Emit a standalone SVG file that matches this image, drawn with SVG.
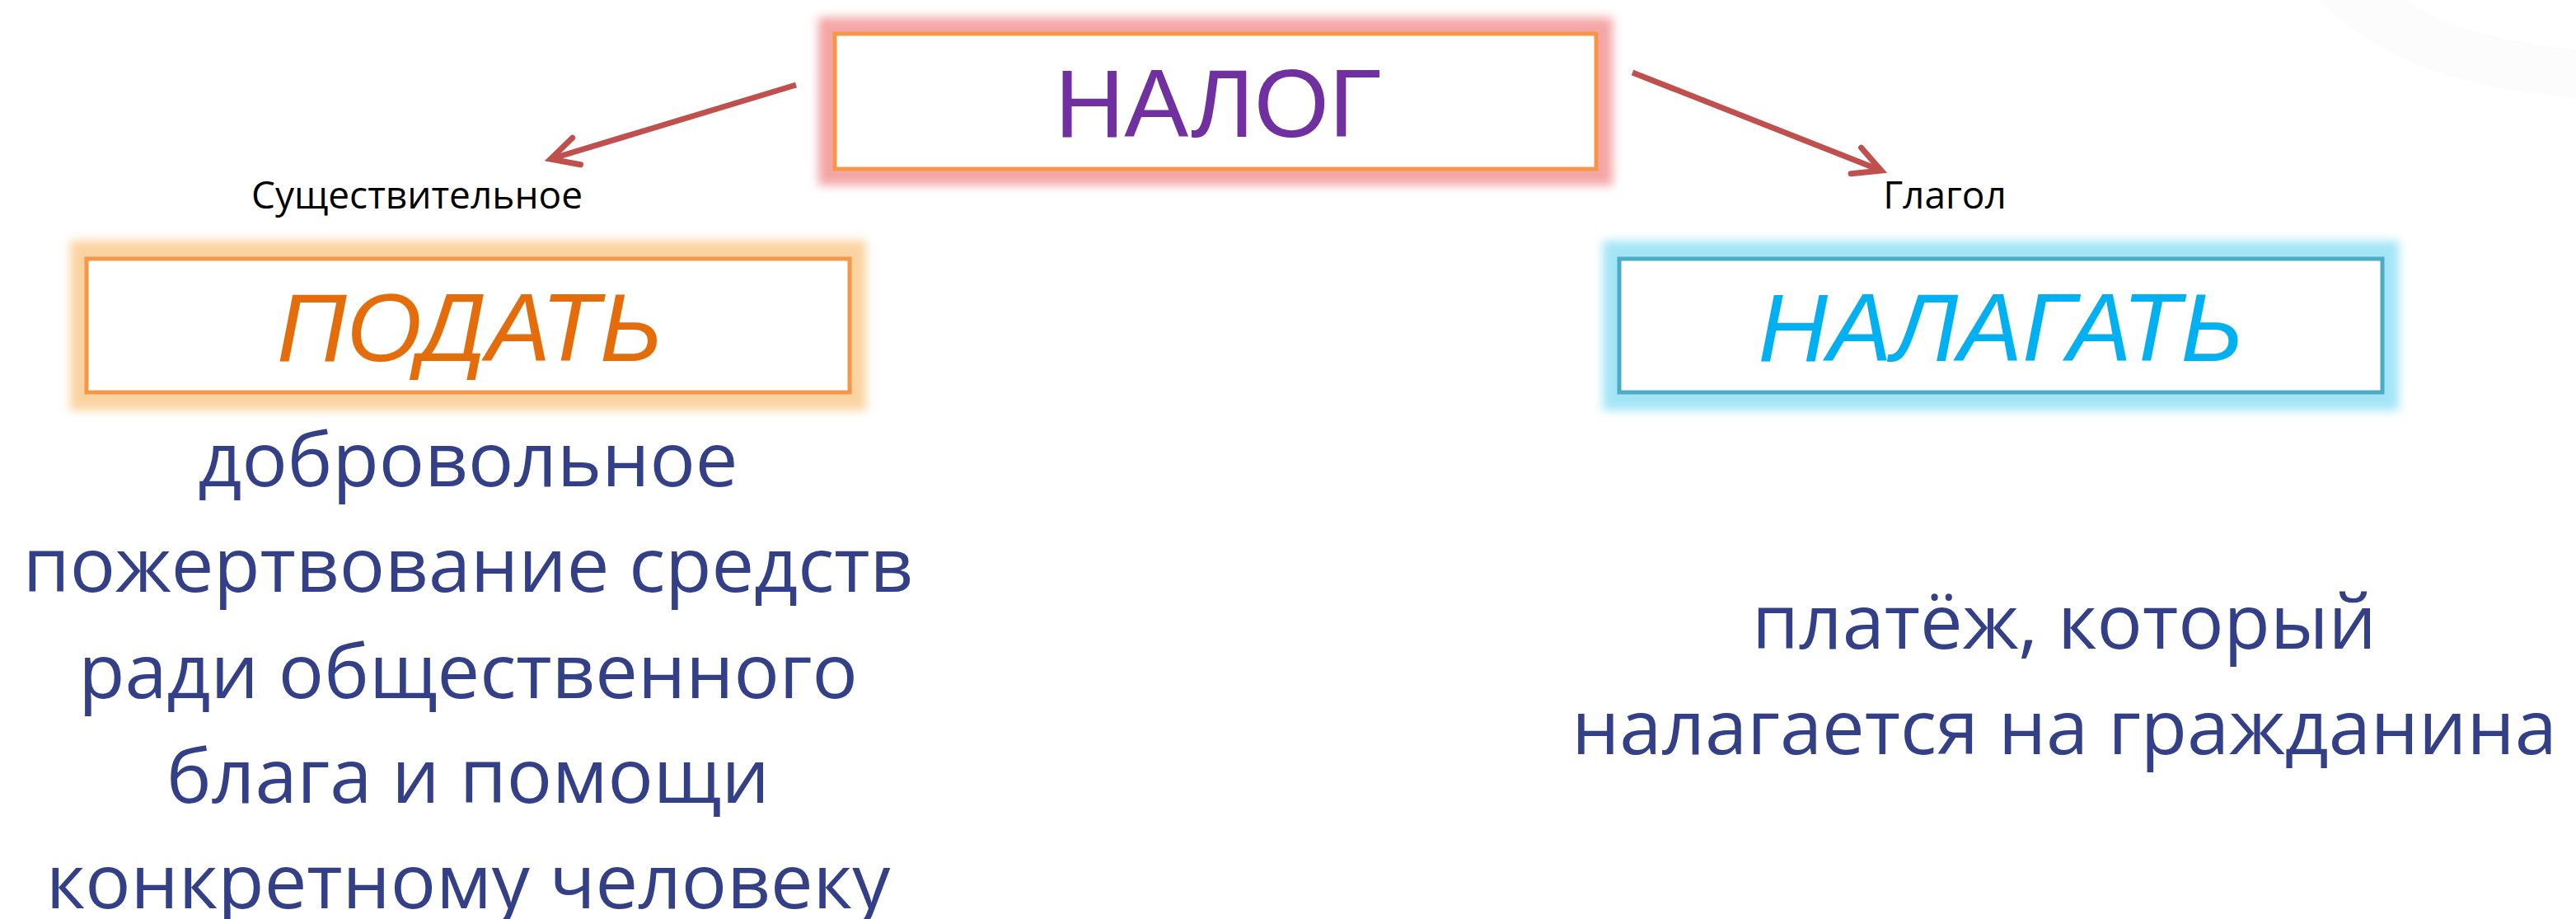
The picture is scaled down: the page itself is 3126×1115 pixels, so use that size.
<svg xmlns="http://www.w3.org/2000/svg" width="3126" height="1115" viewBox="0 0 3126 1115">
<style>
.box{fill:#fff;stroke-width:5}
.big{font-family:"Liberation Sans",Arial,sans-serif;font-size:117px;text-anchor:middle}
.lbl{font-family:"Open Sans","Noto Sans",sans-serif;font-size:46px;fill:#000;text-anchor:middle}
.body{font-family:"Open Sans","Noto Sans",sans-serif;font-size:92px;fill:#334087;text-anchor:middle}
.arrow{fill:none;stroke:#C0504D;stroke-width:7;stroke-linecap:butt}
</style>
<defs>
<filter id="glow" x="-20%" y="-40%" width="140%" height="180%">
<feGaussianBlur stdDeviation="6"/>
</filter>
<marker id="head" markerUnits="userSpaceOnUse" orient="auto" markerWidth="1" markerHeight="1" refX="0" refY="0" overflow="visible">
<path d="M -33 -17 L 0 0 L -33 17" fill="none" stroke="#C0504D" stroke-width="7" stroke-linecap="round" stroke-linejoin="miter"/>
</marker>
</defs>
<rect width="3126" height="1115" fill="#fff"/>
<path d="M 2815 0 C 2880 70 2990 110 3126 118 L 3126 60 C 3030 50 2960 30 2920 0 Z" fill="#F2F2F2" opacity="0.25"/>
<g id="connectors">
<line class="arrow" x1="966" y1="103" x2="668" y2="193" marker-end="url(#head)"/>
<line class="arrow" x1="1981" y1="88" x2="2283" y2="207" marker-end="url(#head)"/>
</g>
<g id="node-nalog">
<rect x="993" y="21" width="964" height="204" fill="#F4A6A6" filter="url(#glow)"/>
<rect class="box" x="1013" y="41" width="924" height="164" stroke="#F79646"/>
<text class="big" x="1478" y="166" fill="#7030A0">НАЛОГ</text>
</g>
<g id="node-podat">
<rect x="85" y="292" width="966" height="206" fill="#FBD3A0" filter="url(#glow)"/>
<rect class="box" x="105" y="314" width="926" height="162" stroke="#F79646"/>
<text class="big" x="570" y="438" fill="#E46C0A" font-style="italic">ПОДАТЬ</text>
</g>
<g id="node-nalagat">
<rect x="1945" y="292" width="966" height="206" fill="#A3E5F6" filter="url(#glow)"/>
<rect class="box" x="1965" y="314" width="926" height="162" stroke="#4BACC6"/>
<text class="big" x="2428" y="438" fill="#00B0F0" font-style="italic">НАЛАГАТЬ</text>
</g>
<g id="label-noun">
<text class="lbl" x="506" y="253">Существительное</text>
</g>
<g id="label-verb">
<text class="lbl" x="2360" y="253">Глагол</text>
</g>
<g id="desc-podat">
<text class="body" x="568" y="590">добровольное</text>
<text class="body" x="568" y="718">пожертвование средств</text>
<text class="body" x="568" y="847">ради общественного</text>
<text class="body" x="568" y="974">блага и помощи</text>
<text class="body" x="568" y="1102">конкретному человеку</text>
</g>
<g id="desc-nalagat">
<text class="body" x="2505" y="787">платёж, который</text>
<text class="body" x="2505" y="915">налагается на гражданина</text>
</g>
</svg>
